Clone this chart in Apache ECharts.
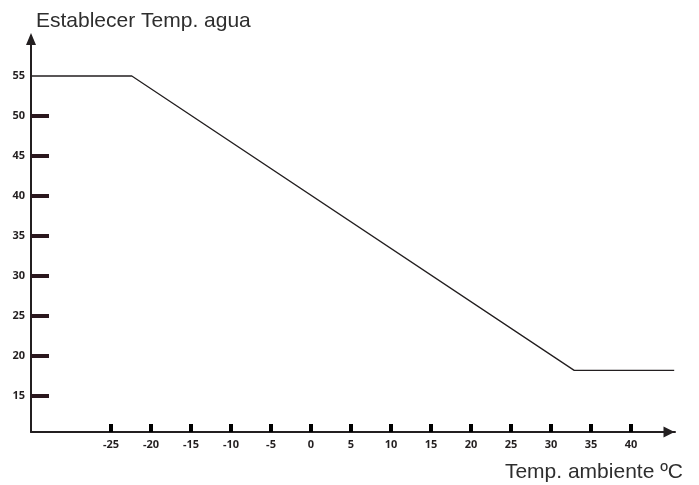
<!DOCTYPE html>
<html>
<head>
<meta charset="utf-8">
<script src="https://cdn.jsdelivr.net/npm/echarts@6/dist/echarts.min.js"></script>
<style>html,body{margin:0;padding:0;background:#fff}#c{width:699px;height:485px}</style>
</head>
<body>
<div id="c"></div>
<script>
// Data
var curveX = [-35, -22.4, 32.9, 45.4];
var curveY = [55, 55, 18.2, 18.2];
var xTickValues = [-25, -20, -15, -10, -5, 0, 5, 10, 15, 20, 25, 30, 35, 40];
var yTickValues = [15, 20, 25, 30, 35, 40, 45, 50];
var yLabelValues = [15, 20, 25, 30, 35, 40, 45, 50, 55];
var yTitle = 'Establecer Temp. agua';
var xTitle = 'Temp. ambiente ºC';

var points = curveX.map(function (x, i) { return [x, curveY[i]]; });
var dark = '#231f20';
var chart = echarts.init(document.getElementById('c'));
chart.setOption({
  animation: false,
  title: [
    { text: yTitle, left: 36, top: 11, padding: 0, textStyle: { fontFamily: 'Liberation Sans', fontSize: 21, fontWeight: 'normal', color: '#2e2e2e' } },
    { text: xTitle, right: 16, top: 462, padding: 0, textStyle: { fontFamily: 'Liberation Sans', fontSize: 21, fontWeight: 'normal', color: '#2e2e2e' } }
  ],
  grid: { left: 31, right: 24, top: 36, bottom: 53 },
  xAxis: {
    type: 'value', min: -35, max: 45.5,
    axisLine: { onZero: false, lineStyle: { color: dark, width: 2 }, symbol: ['none', 'triangle'], symbolSize: [11, 11], symbolOffset: [0, -6] },
    splitLine: { show: false },
    axisTick: { inside: true, length: 8, lineStyle: { color: '#000', width: 4 }, customValues: xTickValues },
    axisLabel: { margin: 7, fontFamily: 'Open Sans', fontWeight: 'bold', fontSize: 11, color: dark, customValues: xTickValues }
  },
  yAxis: {
    type: 'value', min: 10.5, max: 60,
    axisLine: { onZero: false, lineStyle: { color: dark, width: 2 }, symbol: ['none', 'triangle'], symbolSize: [10, 12], symbolOffset: [0, -3] },
    splitLine: { show: false },
    axisTick: { inside: true, length: 18, lineStyle: { color: '#2a171d', width: 4 }, customValues: yTickValues },
    axisLabel: { margin: 6, fontFamily: 'Open Sans', fontWeight: 'bold', fontSize: 11, color: dark, customValues: yLabelValues }
  },
  series: [{
    type: 'line', data: points, symbol: 'none',
    lineStyle: { color: dark, width: 1.3 }
  }]
});
</script>
</body>
</html>
